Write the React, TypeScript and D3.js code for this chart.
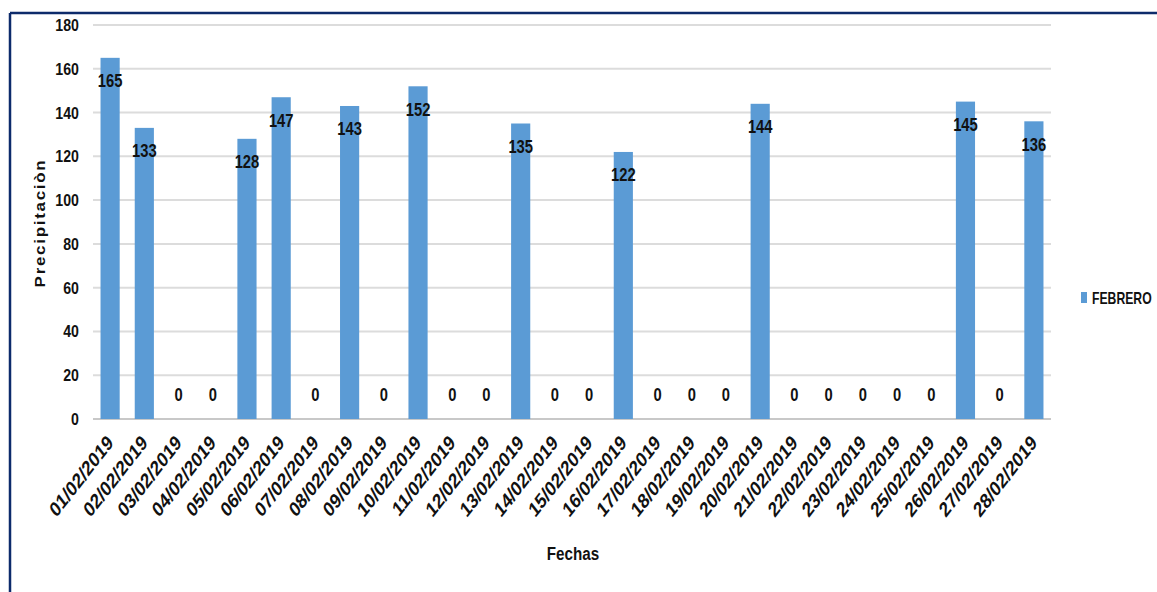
import React from "react";
import * as d3 from "d3";

const fechas = [
  "01/02/2019", "02/02/2019", "03/02/2019", "04/02/2019", "05/02/2019", "06/02/2019", "07/02/2019",
  "08/02/2019", "09/02/2019", "10/02/2019", "11/02/2019", "12/02/2019", "13/02/2019", "14/02/2019",
  "15/02/2019", "16/02/2019", "17/02/2019", "18/02/2019", "19/02/2019", "20/02/2019", "21/02/2019",
  "22/02/2019", "23/02/2019", "24/02/2019", "25/02/2019", "26/02/2019", "27/02/2019", "28/02/2019",
];
const febrero = [165, 133, 0, 0, 128, 147, 0, 143, 0, 152, 0, 0, 135, 0, 0, 122, 0, 0, 0, 144, 0, 0, 0, 0, 0, 145, 0, 136];
const yTicks = [0, 20, 40, 60, 80, 100, 120, 140, 160, 180];

const W = 1157;
const H = 592;
const left = 93;
const right = 1051;
const top = 25;
const bottom = 419;
const font = "'Liberation Sans', Arial, sans-serif";
const barColor = "#5b9bd5";
const ink = "#111";

// Text drawn at (x, y) and narrowed horizontally, optionally rotated.
function NarrowText(props: {
  x: number; y: number; sx: number; rotate?: number; size: number; anchor?: string;
  dy?: string; weight?: string; spacing?: number; children: React.ReactNode;
}) {
  const { x, y, sx, rotate = 0, size, anchor = "start", dy, weight = "bold", spacing = 0, children } = props;
  return (
    <text
      transform={`translate(${x},${y}) scale(${sx},1) rotate(${rotate})`}
      textAnchor={anchor}
      dy={dy}
      fontFamily={font}
      fontWeight={weight}
      fontSize={size}
      letterSpacing={spacing}
      fill={ink}
    >
      {children}
    </text>
  );
}

export default function App() {
  const x = d3.scaleBand<string>().domain(fechas).range([left, right]).paddingInner(0.44).paddingOuter(0.22);
  const y = d3.scaleLinear().domain([0, 180]).range([bottom, top]);

  return (
    <svg width={W} height={H} style={{ position: "absolute", left: 0, top: 0, background: "#fff" }}>
      <rect x={0} y={0} width={W} height={H} fill="#fff" />
      {/* frame */}
      <line x1={10} y1={13} x2={W} y2={13} stroke="#0d2b6b" strokeWidth={2.5} />
      <line x1={10} y1={13} x2={10} y2={H} stroke="#0d2b6b" strokeWidth={2.5} />

      {/* gridlines */}
      {yTicks.map((t) => (
        <line key={t} x1={left} x2={right} y1={y(t)} y2={y(t)} stroke={t === 0 ? "#c8c8c8" : "#dcdcdc"} strokeWidth={2} />
      ))}

      {/* y tick labels */}
      {yTicks.map((t) => (
        <NarrowText key={t} x={79} y={y(t)} dy="0.36em" sx={0.86} size={16.5} anchor="end">
          {t}
        </NarrowText>
      ))}

      {/* bars */}
      {febrero.map((v, i) => (
        <rect key={i} x={x(fechas[i])!} y={y(v)} width={x.bandwidth()} height={bottom - y(v)} fill={barColor} />
      ))}

      {/* value labels */}
      {febrero.map((v, i) => {
        const cx = x(fechas[i])! + x.bandwidth() / 2;
        const cy = v > 0 ? y(v) + 23 : y(0) - 24;
        return (
          <NarrowText key={i} x={cx} y={cy} dy="0.36em" sx={0.82} size={18} anchor="middle">
            {v}
          </NarrowText>
        );
      })}

      {/* x tick labels */}
      {fechas.map((f) => {
        const px = x(f)! + x.bandwidth() / 2 + 4;
        const py = bottom + 25;
        return (
          <NarrowText key={f} x={px} y={py} sx={0.78} size={21} rotate={-45} anchor="end">
            {f}
          </NarrowText>
        );
      })}

      {/* axis titles */}
      <NarrowText x={45} y={223} sx={0.83} size={17} rotate={-90} anchor="middle" spacing={1.7}>
        Precipitaciòn
      </NarrowText>
      <NarrowText x={573} y={553} dy="0.35em" sx={0.8} size={19} anchor="middle">
        Fechas
      </NarrowText>

      {/* legend */}
      <rect x={1081} y={292} width={6} height={11} fill={barColor} />
      <NarrowText x={1092} y={298} dy="0.36em" sx={0.74} size={16.5}>
        FEBRERO
      </NarrowText>
    </svg>
  );
}
